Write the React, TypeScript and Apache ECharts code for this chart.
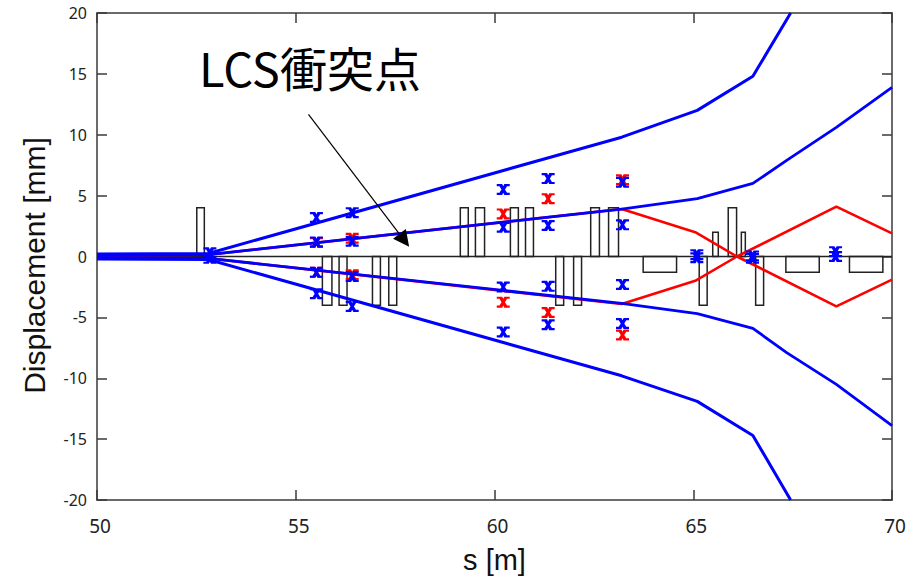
import React, { useEffect, useRef } from "react";
import * as echarts from "echarts";

// Beam envelope lines [s (m), displacement (mm)]
const blueOuterUpper = [[50, 0.2], [52.8, 0.25], [63.2, 9.8], [65.1, 12.0], [66.5, 14.8], [67.45, 20]];
const blueOuterLower = [[50, -0.2], [52.8, -0.25], [63.2, -9.8], [65.1, -11.9], [66.5, -14.7], [67.45, -20]];
const blueInnerUpper = [[50, 0.1], [52.8, 0.15], [63.2, 3.9], [65.1, 4.75], [66.5, 6.0], [67.35, 7.9], [68.6, 10.6], [70, 13.9]];
const blueInnerLower = [[50, -0.1], [52.8, -0.15], [63.2, -3.85], [65.1, -4.7], [66.5, -5.9], [67.35, -7.9], [68.6, -10.5], [70, -13.9]];
const redUpper = [[50, 0.1], [52.8, 0.15], [63.2, 3.9], [65.05, 2.0], [66.1, 0], [68.6, -4.1], [70, -1.9]];
const redLower = [[50, -0.1], [52.8, -0.15], [63.2, -3.9], [65.05, -2.0], [66.1, 0], [68.6, 4.1], [70, 1.9]];

// Measured points
const blueMarks = [
  [52.84, 0.3], [52.84, -0.15],
  [55.52, 3.2], [55.52, 1.2], [55.52, -1.3], [55.52, -3.05],
  [56.42, 3.6], [56.42, 1.25], [56.42, -1.65], [56.42, -4.1],
  [60.22, 5.5], [60.22, 2.4], [60.22, -2.5], [60.22, -6.2],
  [61.35, 6.4], [61.35, 2.55], [61.35, -2.45], [61.35, -5.6],
  [63.22, 6.1], [63.22, 2.6], [63.22, -2.3], [63.22, -5.5],
  [65.09, 0.15], [65.09, -0.1],
  [66.49, 0.05], [66.49, -0.15],
  [68.58, 0.4], [68.58, 0.0],
];
const redMarks = [
  [55.52, 1.15], [55.52, -1.3],
  [56.42, 1.5], [56.42, -1.5],
  [60.22, 3.5], [60.22, -3.75],
  [61.35, 4.75], [61.35, -4.6],
  [63.22, 6.3], [63.22, -6.45],
];

// Magnet elements: start s, end s, height
const magnetS0 = [52.51, 55.67, 56.09, 56.93, 57.34, 59.14, 59.52, 60.4, 60.78, 61.54, 61.99, 62.42, 62.87, 63.74, 65.15, 65.49, 65.88, 66.21, 66.57, 67.33, 68.93];
const magnetS1 = [52.7, 55.91, 56.29, 57.13, 57.54, 59.34, 59.75, 60.6, 60.98, 61.74, 62.19, 62.64, 63.12, 64.58, 65.35, 65.63, 66.09, 66.31, 66.77, 68.17, 69.77];
const magnetH = [4, -4, -4, -4, -4, 4, 4, 4, 4, -4, -4, 4, 4, -1.3, -4, 2, 4, 2, -4, -1.3, -1.3];

const zeroLine = [[50, 0], [70, 0]];
const arrowFrom = [55.32, 11.67];
const arrowTo = [57.73, 1.33];
const titleText = "LCS衝突点";

const xTicks = { min: 50, max: 70, interval: 5 };
const yTicks = { min: -20, max: 20, interval: 5 };

const markerPath =
  "path://M0,0H5L6,2L7,0H12V2H9.5L7.6,5L9.5,8H12V10H7L6,8L5,10H0V8H2.5L4.4,5L2.5,2H0Z";

export default function App() {
  const ref = useRef<HTMLDivElement>(null);
  useEffect(() => {
    if (!ref.current) return;
    const chart = echarts.init(ref.current, undefined, { renderer: "svg" });
    const axisColor = "#3a3a3a";
    const frameAxis = {
      axisLine: { show: true, onZero: false, lineStyle: { color: axisColor, width: 1.5 } },
      axisTick: { show: true, inside: true, length: 10, lineStyle: { color: axisColor, width: 1.5 } },
      splitLine: { show: false },
    };
    const magnets = magnetS0.map((s0, i) => [s0, magnetS1[i], magnetH[i]]);
    const option: any = {
      animation: false,
      grid: { left: 97, right: 24, top: 13, bottom: 79 },
      xAxis: [
        {
          type: "value", ...xTicks, position: "bottom", ...frameAxis,
          axisLabel: { fontSize: 19, fontFamily: "Noto Sans", color: "#222", margin: 16, padding: [0, 0, 0, 6] },
          name: "s [m]", nameLocation: "middle", nameGap: 45,
          nameTextStyle: { fontSize: 29, fontFamily: "Liberation Sans", color: "#111" },
        },
        { type: "value", ...xTicks, position: "top", ...frameAxis, axisLabel: { show: false } },
      ],
      yAxis: [
        {
          type: "value", ...yTicks, position: "left", ...frameAxis,
          axisLabel: { fontSize: 16, fontFamily: "Noto Sans", color: "#222", margin: 10 },
          name: "Displacement [mm]", nameLocation: "middle", nameGap: 48, nameRotate: 90,
          nameTextStyle: { fontSize: 30, fontFamily: "Liberation Sans", color: "#111", padding: [0, 18, 0, 0] },
        },
        { type: "value", ...yTicks, position: "right", ...frameAxis, axisLabel: { show: false } },
      ],
      graphic: [
        {
          type: "text", left: 199, top: 43,
          style: { text: titleText, fontSize: 47, fontFamily: "'Noto Sans CJK JP'", fill: "#000" },
        },
      ],
      series: [
        {
          type: "custom",
          data: magnets,
          encode: { x: [0, 1], y: 2 },
          renderItem: (params: any, api: any) => {
            const p0 = api.coord([api.value(0), 0]);
            const p1 = api.coord([api.value(1), api.value(2)]);
            return {
              type: "rect",
              shape: {
                x: Math.min(p0[0], p1[0]), y: Math.min(p0[1], p1[1]),
                width: Math.abs(p1[0] - p0[0]), height: Math.abs(p1[1] - p0[1]),
              },
              style: { fill: "none", stroke: "#222", lineWidth: 1.5 },
            };
          },
          z: 1,
        },
        {
          type: "line", data: zeroLine, symbol: "none", z: 1,
          lineStyle: { color: "#222", width: 1.5 },
          markLine: {
            silent: true, symbol: ["none", "triangle"], symbolSize: 16,
            lineStyle: { color: "#000", width: 1.2, type: "solid" },
            label: { show: false },
            data: [[{ coord: arrowFrom }, { coord: arrowTo }]],
          },
        },
        { type: "line", data: redUpper, symbol: "none", lineStyle: { color: "#ff0000", width: 2.6 }, z: 2 },
        { type: "line", data: redLower, symbol: "none", lineStyle: { color: "#ff0000", width: 2.6 }, z: 2 },
        { type: "line", data: blueInnerUpper, symbol: "none", lineStyle: { color: "#0000ff", width: 2.8 }, z: 3 },
        { type: "line", data: blueInnerLower, symbol: "none", lineStyle: { color: "#0000ff", width: 2.8 }, z: 3 },
        { type: "line", data: blueOuterUpper, symbol: "none", lineStyle: { color: "#0000ff", width: 3 }, z: 3 },
        { type: "line", data: blueOuterLower, symbol: "none", lineStyle: { color: "#0000ff", width: 3 }, z: 3 },
        { type: "scatter", data: redMarks, symbol: markerPath, symbolSize: [13, 11], itemStyle: { color: "#ff0000", opacity: 1 }, z: 4 },
        { type: "scatter", data: blueMarks, symbol: markerPath, symbolSize: [13, 11], itemStyle: { color: "#0000ff", opacity: 1 }, z: 5 },
      ],
    };
    chart.setOption(option);
    return () => chart.dispose();
  }, []);
  return (
    <div
      ref={ref}
      style={{ position: "fixed", left: 0, top: 0, width: 916, height: 579, background: "#fff" }}
    />
  );
}
